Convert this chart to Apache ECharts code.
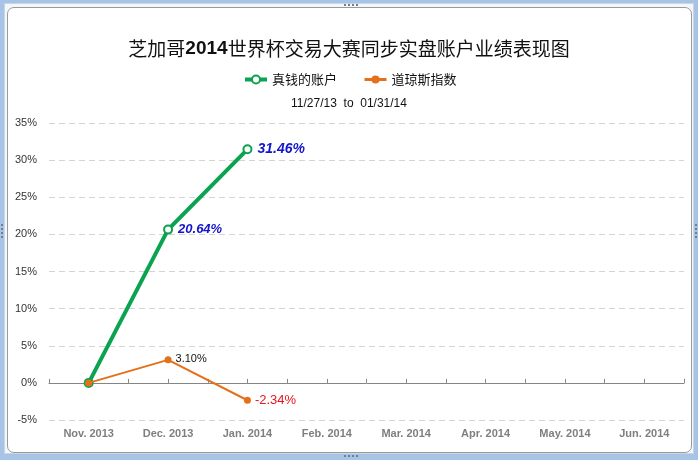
<!DOCTYPE html>
<html>
<head>
<meta charset="utf-8">
<script src="https://cdn.jsdelivr.net/npm/echarts@6/dist/echarts.min.js"></script>
<style>
  html, body { margin: 0; padding: 0; width: 698px; height: 460px; overflow: hidden; background: #a7c4e6; }
  #frame1 { position: absolute; left: 4px; top: 3px; width: 690px; height: 451px; background: #f3f7fb; box-sizing: border-box; border: 1px solid #c9d6e4; }
  #frame2 { position: absolute; left: 7px; top: 7px; width: 685px; height: 446px; background: #ffffff; box-sizing: border-box; border: 1px solid #9a9a9a; border-radius: 7px; }
  .h { position: absolute; border-top: 2px dotted #6f7f90; }
  .v { position: absolute; border-left: 2px dotted #6f7f90; }
  #chart { position: absolute; left: 0; top: 0; width: 698px; height: 460px; }
</style>
</head>
<body>
<div id="frame1"></div>
<div id="frame2"></div>
<div class="h" style="left:344px;top:4px;width:14px;"></div>
<div class="h" style="left:344px;top:455px;width:14px;"></div>
<div class="v" style="left:1px;top:224px;height:14px;"></div>
<div class="v" style="left:695px;top:224px;height:14px;"></div>
<div id="chart"></div>
<script>
// ---- data ----
var categories = ['Nov. 2013', 'Dec. 2013', 'Jan. 2014', 'Feb. 2014', 'Mar. 2014', 'Apr. 2014', 'May. 2014', 'Jun. 2014'];
var accountValues = [0, 20.64, 31.46];
var dowValues = [0, 3.10, -2.34];
var seriesNames = ['真钱的账户', '道琼斯指数'];
var yMin = -5, yMax = 35, yStep = 5;
var titleText = '芝加哥2014世界杯交易大赛同步实盘账户业绩表现图';
var subText = '11/27/13  to  01/31/14';

// ---- styling ----
var GREEN = '#0aa34f';
var ORANGE = '#e5701a';
var FONT = '"Liberation Sans", Arial, "Noto Sans CJK SC", sans-serif';
var CJK = '"Noto Sans CJK SC", sans-serif';

var halfTicks = [];
for (var i = 0; i < categories.length * 2; i++) halfTicks.push('');

var accountData = accountValues.map(function (v, i) {
  var item = { value: v };
  if (i === 0) {
    item.label = { show: false };
  } else {
    item.label = {
      show: true, position: 'right', distance: 5,
      formatter: v.toFixed(2) + '%',
      color: '#1414cc', fontStyle: 'italic', fontWeight: 'bold',
      fontFamily: FONT, fontSize: i === 2 ? 14 : 13
    };
  }
  return item;
});

var dowData = dowValues.map(function (v, i) {
  var item = { value: v };
  if (i === 0) {
    item.label = { show: false };
  } else if (v >= 0) {
    item.label = {
      show: true, position: 'right', distance: 4, offset: [0, -1],
      formatter: v.toFixed(2) + '%',
      color: '#111111', fontFamily: FONT, fontSize: 11
    };
  } else {
    item.label = {
      show: true, position: 'right', distance: 4,
      formatter: v.toFixed(2) + '%',
      color: '#e8141e', fontFamily: FONT, fontSize: 13
    };
  }
  return item;
});

// split title so "2014" is bold
var tParts = titleText.split('2014');

var chart = echarts.init(document.getElementById('chart'), null, { renderer: 'canvas' });
chart.setOption({
  animation: false,
  textStyle: { fontFamily: FONT },
  title: [
    {
      text: '{a|' + tParts[0] + '}{b|2014}{a|' + tParts[1] + '}',
      left: 'center', top: 34,
      textStyle: {
        fontWeight: 'normal', fontSize: 19,
        rich: {
          a: { fontSize: 19, color: '#111', fontWeight: 'normal', fontFamily: CJK },
          b: { fontSize: 19, color: '#111', fontWeight: 'bold', fontFamily: FONT }
        }
      }
    },
    {
      text: subText,
      left: 'center', top: 93,
      textStyle: { fontSize: 12, fontWeight: 'normal', color: '#111', fontFamily: FONT }
    }
  ],
  legend: {
    data: [
      { name: seriesNames[0], lineStyle: { width: 4 } },
      { name: seriesNames[1], lineStyle: { width: 3 } }
    ],
    left: 238, top: 68,
    itemWidth: 22, itemHeight: 10, itemGap: 26,
    textStyle: { fontSize: 13, color: '#111', fontFamily: CJK }
  },
  grid: { left: 49, right: 14, top: 123, bottom: 40, containLabel: false },
  xAxis: [
    {
      type: 'category', data: categories, boundaryGap: true,
      axisLine: { show: false, onZero: false },
      axisTick: { show: false },
      splitLine: { show: false },
      axisLabel: { color: '#7f7f7f', fontWeight: 'bold', fontSize: 11, margin: 8, interval: 0, fontFamily: FONT }
    },
    {
      type: 'category', data: halfTicks, boundaryGap: true, position: 'bottom',
      axisLine: { show: true, onZero: true, lineStyle: { color: '#858585', width: 1 } },
      axisTick: { show: true, inside: true, length: 4, interval: 0, lineStyle: { color: '#858585' } },
      axisLabel: { show: false },
      splitLine: { show: false }
    }
  ],
  yAxis: {
    type: 'value', min: yMin, max: yMax, interval: yStep,
    axisLine: { show: false }, axisTick: { show: false },
    axisLabel: { formatter: '{value}%', color: '#333', fontSize: 11, margin: 12, fontFamily: FONT },
    splitLine: { show: true, lineStyle: { color: '#d4d4d4', type: [6, 4], width: 1 } }
  },
  series: [
    {
      name: seriesNames[0], type: 'line', xAxisIndex: 0,
      data: accountData,
      symbol: 'emptyCircle', symbolSize: 8,
      lineStyle: { color: GREEN, width: 4 },
      itemStyle: { color: GREEN, borderWidth: 2 },
      z: 2
    },
    {
      name: seriesNames[1], type: 'line', xAxisIndex: 0,
      data: dowData,
      symbol: 'circle', symbolSize: 7,
      lineStyle: { color: ORANGE, width: 2 },
      itemStyle: { color: ORANGE },
      z: 3
    }
  ]
});
</script>
</body>
</html>
